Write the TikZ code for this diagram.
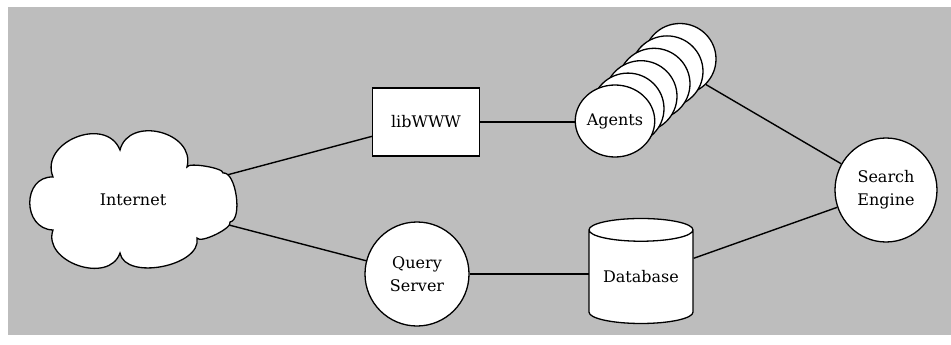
\documentclass[tikz,border=0pt]{standalone}
\usepackage{fontspec}
\setmainfont{DejaVu Serif}
\usepackage{tikz}
\usetikzlibrary{shapes,positioning,calc,backgrounds}
\definecolor{bggray}{RGB}{189,189,189}

\begin{document}
\begin{tikzpicture}[x=1pt, y=-1pt, line width=1.3pt,
    every node/.style={font=\fontsize{16}{23}\selectfont, align=center, inner sep=0pt},
    blob/.style={draw, fill=white, ellipse},
    link/.style={draw=black, line width=1.4pt},
    ]
    % cloud outline
    \filldraw[fill=white] (53,230) .. controls (22,229) and (22,176) .. (53,177)
        .. controls (39,142) and (106,115) .. (120,150)
        .. controls (129,115) and (196,132) .. (187,167)
        .. controls (188,162) and (224,168) .. (223,173)
        .. controls (236,171) and (243,220) .. (230,222)
        .. controls (233,228) and (200,244) .. (197,238)
        .. controls (202,266) and (125,281) .. (120,253)
        .. controls (109,285) and (42,262) .. (53,230) -- cycle;
    \node [ellipse, minimum width=196, minimum height=126] (Net) at (133,200) {Internet};

    \node [draw, fill=white, rectangle, minimum width=107, minimum height=68] (Lib) at (426,122) {libWWW};
    \foreach \k in {5,...,1}
        \node [blob, minimum width=72, minimum height=71] (A\k) at (615+13*\k, 121-12.4*\k) {};
    \node [blob, minimum width=76, minimum height=72] (A0) at (615,121) {Agents};
    \node [blob, minimum size=104] (QS) at (417,274) {Query\\Server};
    \node [draw, fill=white, cylinder, shape border rotate=90, aspect=0.3, minimum height=105, minimum width=104] (DB) at (641,277) {Database};
    \node [blob, minimum width=102, minimum height=104] (SE) at (886,190) {Search\\Engine};

    \begin{scope}[on background layer]
        \fill[white] (0,0) rectangle (951,345);
        \fill[bggray] (8,7) rectangle (951,335);
        \draw[link] (Net.center) -- (Lib);
        \draw[link] (Net.center) -- (QS);
        \draw[link] (Lib) -- (Lib -| A0);
        \draw[link] (A5.south east) -- (SE); % from the back of the stack
        \draw[link] (QS) -- (QS -| DB);
        \draw[link] (DB) -- (SE);
    \end{scope}
\end{tikzpicture}
\end{document}
